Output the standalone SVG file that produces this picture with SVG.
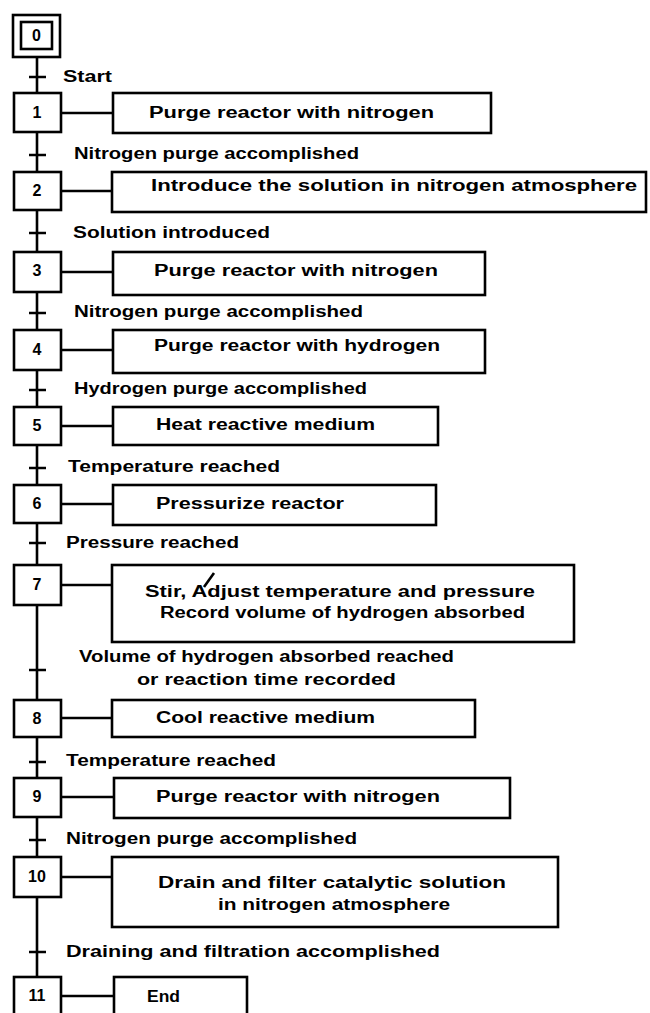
<svg xmlns="http://www.w3.org/2000/svg" width="650" height="1013" viewBox="0 0 650 1013">
<style>
.bx{fill:#fff;stroke:#000;stroke-width:2.6}
.ln{stroke:#000;stroke-width:2.6;fill:none}
.tk{stroke:#000;stroke-width:2.4}
.t{font-family:"Liberation Sans",Arial,sans-serif;font-weight:bold;font-size:16px;fill:#000}
.n{font-family:"Liberation Sans",Arial,sans-serif;font-weight:bold;font-size:16px;fill:#000;text-anchor:middle}
</style>
<rect width="650" height="1013" fill="#fff"/>
<g id="connectors">
<path class="ln" d="M37 57V93M37 132V172M37 210V252M37 292V330M37 370V407M37 445V485M37 523V565M37 605V700M37 737V778M37 817V857M37 897V977"/>
<path class="tk" d="M29 77H46M29 155H46M29 233H46M29 313H46M29 390H46M29 468H46M29 543H46M29 670H46M29 762H46M29 840H46M29 952H46"/>
<path class="ln" d="M61 113H113M61 191H112M61 272H113M61 350H113M61 426H113M61 504H113M61 585H112M61 718H112M61 797H114M61 877H112M61 996H114"/>
<text class="t" x="63" y="82" textLength="49" lengthAdjust="spacingAndGlyphs">Start</text>
<text class="t" x="74" y="159" textLength="285" lengthAdjust="spacingAndGlyphs">Nitrogen purge accomplished</text>
<text class="t" x="73" y="238" textLength="197" lengthAdjust="spacingAndGlyphs">Solution introduced</text>
<text class="t" x="74" y="317" textLength="289" lengthAdjust="spacingAndGlyphs">Nitrogen purge accomplished</text>
<text class="t" x="74" y="394" textLength="293" lengthAdjust="spacingAndGlyphs">Hydrogen purge accomplished</text>
<text class="t" x="68" y="472" textLength="212" lengthAdjust="spacingAndGlyphs">Temperature reached</text>
<text class="t" x="66" y="548" textLength="173" lengthAdjust="spacingAndGlyphs">Pressure reached</text>
<text class="t" x="79" y="662" textLength="375" lengthAdjust="spacingAndGlyphs">Volume of hydrogen absorbed reached</text>
<text class="t" x="137" y="685" textLength="259" lengthAdjust="spacingAndGlyphs">or reaction time recorded</text>
<text class="t" x="66" y="766" textLength="210" lengthAdjust="spacingAndGlyphs">Temperature reached</text>
<text class="t" x="66" y="844" textLength="291" lengthAdjust="spacingAndGlyphs">Nitrogen purge accomplished</text>
<text class="t" x="66" y="957" textLength="374" lengthAdjust="spacingAndGlyphs">Draining and filtration accomplished</text>
</g>
<g id="step0"><rect class="bx" x="13" y="15" width="47" height="42"/><rect class="bx" x="21" y="22" width="31" height="27"/><text class="n" x="36.5" y="41">0</text></g>
<g id="step1"><rect class="bx" x="14" y="93" width="47" height="39"/><text class="n" x="37" y="118">1</text></g>
<g id="action1"><rect class="bx" x="113" y="93" width="378" height="40"/><text class="t" x="149" y="118" textLength="285" lengthAdjust="spacingAndGlyphs">Purge reactor with nitrogen</text></g>
<g id="step2"><rect class="bx" x="14" y="172" width="47" height="38"/><text class="n" x="37" y="196">2</text></g>
<g id="action2"><rect class="bx" x="112" y="172" width="534" height="40"/><text class="t" x="151" y="191" textLength="486" lengthAdjust="spacingAndGlyphs">Introduce the solution in nitrogen atmosphere</text></g>
<g id="step3"><rect class="bx" x="14" y="252" width="47" height="40"/><text class="n" x="37" y="276">3</text></g>
<g id="action3"><rect class="bx" x="113" y="252" width="372" height="43"/><text class="t" x="154" y="276" textLength="284" lengthAdjust="spacingAndGlyphs">Purge reactor with nitrogen</text></g>
<g id="step4"><rect class="bx" x="14" y="330" width="47" height="40"/><text class="n" x="37" y="355">4</text></g>
<g id="action4"><rect class="bx" x="113" y="330" width="372" height="43"/><text class="t" x="154" y="351" textLength="286" lengthAdjust="spacingAndGlyphs">Purge reactor with hydrogen</text></g>
<g id="step5"><rect class="bx" x="14" y="407" width="47" height="38"/><text class="n" x="37" y="431">5</text></g>
<g id="action5"><rect class="bx" x="113" y="407" width="325" height="38"/><text class="t" x="156" y="430" textLength="219" lengthAdjust="spacingAndGlyphs">Heat reactive medium</text></g>
<g id="step6"><rect class="bx" x="14" y="485" width="47" height="38"/><text class="n" x="37" y="509">6</text></g>
<g id="action6"><rect class="bx" x="113" y="485" width="323" height="40"/><text class="t" x="156" y="509" textLength="188" lengthAdjust="spacingAndGlyphs">Pressurize reactor</text></g>
<g id="step7"><rect class="bx" x="14" y="565" width="47" height="40"/><text class="n" x="37" y="590">7</text></g>
<g id="action7"><rect class="bx" x="112" y="565" width="462" height="77"/><text class="t" x="145" y="597" textLength="390" lengthAdjust="spacingAndGlyphs">Stir, Adjust temperature and pressure</text><text class="t" x="160" y="618" textLength="365" lengthAdjust="spacingAndGlyphs">Record volume of hydrogen absorbed</text><path class="ln" d="M204 587L214 573" stroke-width="2"/></g>
<g id="step8"><rect class="bx" x="14" y="700" width="47" height="37"/><text class="n" x="37" y="724">8</text></g>
<g id="action8"><rect class="bx" x="112" y="700" width="363" height="37"/><text class="t" x="156" y="723" textLength="219" lengthAdjust="spacingAndGlyphs">Cool reactive medium</text></g>
<g id="step9"><rect class="bx" x="14" y="778" width="47" height="39"/><text class="n" x="37" y="802">9</text></g>
<g id="action9"><rect class="bx" x="114" y="778" width="396" height="40"/><text class="t" x="156" y="802" textLength="284" lengthAdjust="spacingAndGlyphs">Purge reactor with nitrogen</text></g>
<g id="step10"><rect class="bx" x="14" y="857" width="47" height="40"/><text class="n" x="37" y="882">10</text></g>
<g id="action10"><rect class="bx" x="112" y="857" width="446" height="70"/><text class="t" x="158" y="888" textLength="348" lengthAdjust="spacingAndGlyphs">Drain and filter catalytic solution</text><text class="t" x="218" y="910" textLength="232" lengthAdjust="spacingAndGlyphs">in nitrogen atmosphere</text></g>
<g id="step11"><rect class="bx" x="14" y="977" width="47" height="40"/><text class="n" x="37" y="1001">11</text></g>
<g id="action11"><rect class="bx" x="114" y="977" width="133" height="40"/><text class="t" x="147" y="1002" textLength="33" lengthAdjust="spacingAndGlyphs">End</text></g>
</svg>
